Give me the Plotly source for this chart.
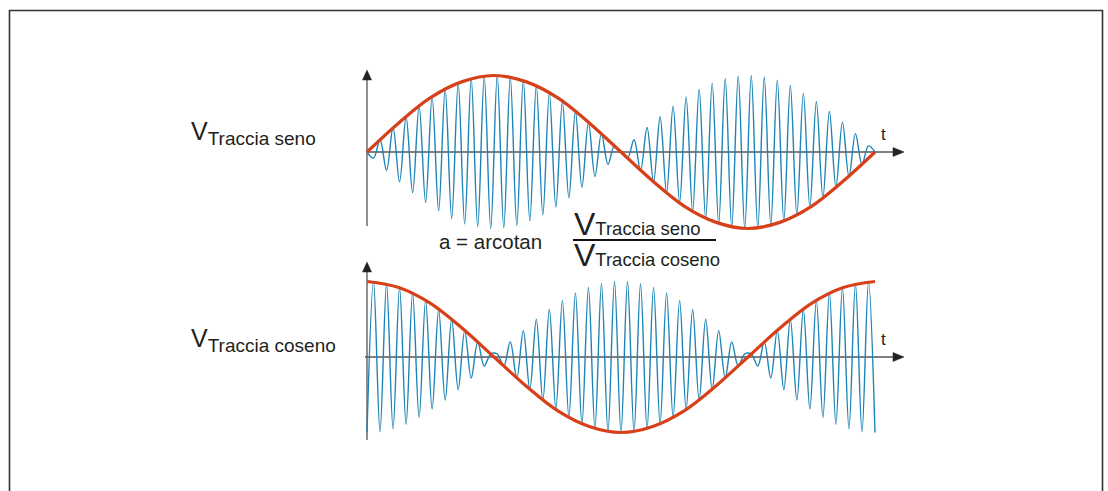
import numpy as np
import plotly.graph_objects as go

W, H = 1108, 491

# Signed peak heights of each carrier half-cycle (envelope = 1)
top_carrier = [
    0, -0.08, 0.16, -0.24, 0.32, -0.39, 0.46, -0.53, 0.60, -0.66,
    0.72, -0.77, 0.82, -0.87, 0.90, -0.94, 0.96, -0.98, 0.99, -1.00,
    1.00, -0.99, 0.98, -0.96, 0.94, -0.90, 0.87, -0.82, 0.77, -0.72,
    0.66, -0.60, 0.53, -0.46, 0.39, -0.32, 0.24, -0.16, 0.08, 0,
    -0.08, 0.16, -0.24, 0.32, -0.39, 0.46, -0.53, 0.60, -0.66,
    0.72, -0.77, 0.82, -0.87, 0.90, -0.94, 0.96, -0.98, 0.99, -1.00,
    1.00, -0.99, 0.98, -0.96, 0.94, -0.90, 0.87, -0.82, 0.77, -0.72,
    0.66, -0.60, 0.53, -0.46, 0.39, -0.32, 0.24, -0.16, 0.08, 0,
]
bot_carrier = [
    -1.00, 1.00, -0.99, 0.97, -0.95, 0.92, -0.89, 0.85, -0.80, 0.75,
    -0.69, 0.63, -0.57, 0.50, -0.43, 0.35, -0.28, 0.20, -0.12, 0.04,
    0.04, -0.12, 0.20, -0.28, 0.35, -0.43, 0.50, -0.57, 0.63, -0.69,
    0.75, -0.80, 0.85, -0.89, 0.92, -0.95, 0.97, -0.99, 1.00, -1.00,
    1.00, -0.99, 0.97, -0.95, 0.92, -0.89, 0.85, -0.80, 0.75, -0.69,
    0.63, -0.57, 0.50, -0.43, 0.35, -0.28, 0.20, -0.12, 0.04, 0.04,
    -0.12, 0.20, -0.28, 0.35, -0.43, 0.50, -0.57, 0.63, -0.69, 0.75,
    -0.80, 0.85, -0.89, 0.92, -0.95, 0.97, -0.99, 1.00, -1.00,
]

# Envelope (red) read at 17 equally spaced times
env_t = [0, 0.0625, 0.125, 0.1875, 0.25, 0.3125, 0.375, 0.4375, 0.5,
         0.5625, 0.625, 0.6875, 0.75, 0.8125, 0.875, 0.9375, 1.0]
top_env = [0, 0.38, 0.71, 0.92, 1.0, 0.92, 0.71, 0.38, 0,
           -0.38, -0.71, -0.92, -1.0, -0.92, -0.71, -0.38, 0]
bot_env = [1.0, 0.92, 0.71, 0.38, 0, -0.38, -0.71, -0.92, -1.0,
           -0.92, -0.71, -0.38, 0, 0.38, 0.71, 0.92, 1.0]

car_t = np.linspace(0, 1, len(top_carrier))

BLUE = "#1d84b6"
RED = "#d8401a"
AX = "#555555"
TXT = "#231f20"
FONT = "Liberation Sans, Arial, sans-serif"

# pixel layout
X0, X1 = 367, 875
TOP_Z, TOP_S = 152, 76.5
BOT_Z, BOT_S = 357, 75.5

fig = go.Figure()
fig.add_trace(go.Scatter(x=car_t, y=top_carrier, mode="lines",
                         line=dict(color=BLUE, width=1.4, shape="spline", smoothing=1.0),
                         yaxis="y", hoverinfo="skip"))
fig.add_trace(go.Scatter(x=env_t, y=top_env, mode="lines",
                         line=dict(color=RED, width=3.2, shape="spline", smoothing=1.0),
                         yaxis="y", hoverinfo="skip"))
fig.add_trace(go.Scatter(x=car_t, y=bot_carrier, mode="lines",
                         line=dict(color=BLUE, width=1.4, shape="spline", smoothing=1.0),
                         yaxis="y2", hoverinfo="skip"))
fig.add_trace(go.Scatter(x=env_t, y=bot_env, mode="lines",
                         line=dict(color=RED, width=3.2, shape="spline", smoothing=1.0),
                         yaxis="y2", hoverinfo="skip"))


def px(x):
    return x / W


def py(y):
    return 1 - y / H


def tri(pts):
    return "M " + " L ".join(f"{px(a)},{py(b)}" for a, b in pts) + " Z"


shapes = []
# outer frame
shapes.append(dict(type="rect", xref="paper", yref="paper", x0=px(9.5), x1=px(1102.5),
                   y0=py(500), y1=py(10.5), line=dict(color="#333333", width=1.6),
                   fillcolor="rgba(0,0,0,0)", layer="below"))


def line(x0, y0, x1, y1, color=AX, width=1.3, layer="below"):
    shapes.append(dict(type="line", xref="paper", yref="paper", x0=px(x0), y0=py(y0),
                       x1=px(x1), y1=py(y1), line=dict(color=color, width=width), layer=layer))


# top axes
line(367, 226, 367, 78)
line(367, TOP_Z, 895, TOP_Z)
# bottom axes
line(367, 440, 367, 270)
line(365, BOT_Z, 895, BOT_Z)
# fraction bar
line(573, 240, 716, 240, color="#111111", width=2, layer="above")

for p in [
    [(367, 70), (362.5, 80), (371.5, 80)],
    [(904, TOP_Z), (893, TOP_Z - 4.5), (893, TOP_Z + 4.5)],
    [(367, 262), (362.5, 272), (371.5, 272)],
    [(904, BOT_Z), (893, BOT_Z - 4.5), (893, BOT_Z + 4.5)],
]:
    shapes.append(dict(type="path", xref="paper", yref="paper", path=tri(p),
                       fillcolor="#222222", line=dict(color="#222222", width=0.5)))

ann = []


def text(x, y, s, size, xanchor="left", yanchor="middle"):
    ann.append(dict(x=px(x), y=py(y), xref="paper", yref="paper", text=s, showarrow=False,
                    xanchor=xanchor, yanchor=yanchor, font=dict(family=FONT, size=size, color=TXT)))


text(189, 133, "V<sub><span style='font-size:19px'>Traccia seno</span></sub>", 25)
text(189, 340, "V<sub><span style='font-size:19px'>Traccia coseno</span></sub>", 25)
text(883, 134, "t", 17, xanchor="center")
text(883, 339, "t", 17, xanchor="center")
text(437, 241, "a = arcotan", 20.5)
text(572, 224, "V<span style='font-size:18.5px'>Traccia seno</span>", 32)
text(572, 255, "V<span style='font-size:18.5px'>Traccia coseno</span>", 32)

fig.update_layout(
    width=W, height=H,
    margin=dict(l=0, r=0, t=0, b=0),
    paper_bgcolor="white", plot_bgcolor="white",
    showlegend=False,
    xaxis=dict(range=[-X0 / (X1 - X0), (W - X0) / (X1 - X0)], domain=[0, 1],
               visible=False, fixedrange=True),
    yaxis=dict(range=[-(H - TOP_Z) / TOP_S, TOP_Z / TOP_S], domain=[0, 1],
               visible=False, fixedrange=True),
    yaxis2=dict(range=[-(H - BOT_Z) / BOT_S, BOT_Z / BOT_S], domain=[0, 1],
                overlaying="y", visible=False, fixedrange=True),
    shapes=shapes,
    annotations=ann,
)

fig.write_html("out.html", config={"displayModeBar": False},
               post_script="document.body.style.margin='0';document.body.style.overflow='hidden';")
